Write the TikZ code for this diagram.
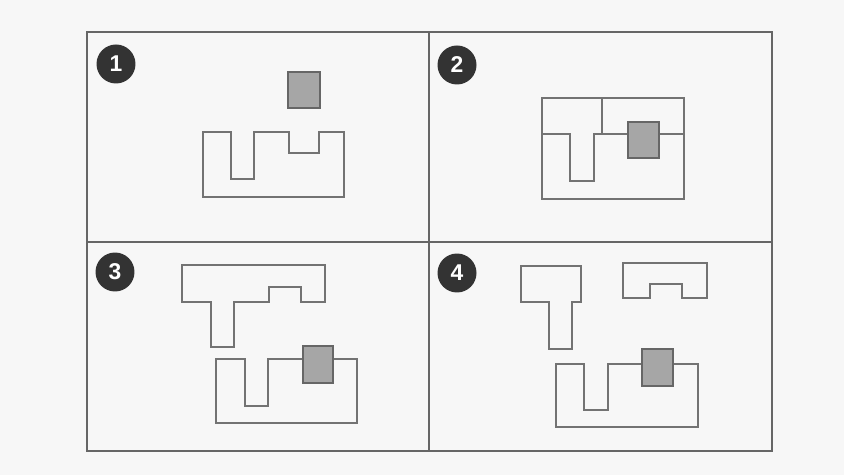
\documentclass[tikz,border=0pt]{standalone}
\usepackage{fontspec}
\setsansfont{Liberation Sans}
\usepackage{tikz}
\usetikzlibrary{positioning}

\begin{document}
\begin{tikzpicture}[
    x=0.02cm, y=-0.02cm,
    frame/.style={draw=black!60, line width=0.7pt},
    piece/.style={draw=black!55, line width=0.8pt, line join=miter},
    plug/.style={draw=black!60, fill=black!35, line width=0.8pt},
    badge/.style={circle, fill=black!80, text=white, minimum size=0.78cm, inner sep=0pt,
                  font=\sffamily\bfseries\fontsize{13}{13}\selectfont},
]
    \fill[black!3] (0,0) rectangle (844,475);
    \useasboundingbox (0,0) rectangle (844,475);
    % frame and dividers
    \draw[frame] (87,32) rectangle (772,451);
    \draw[frame] (429,32) -- (429,451);
    \draw[frame] (87,242) -- (772,242);
    % step numbers
    \node[badge] (n1) at (116,64) {1};
    \node[badge] (n2) at (457,65) {2};
    \node[badge] (n3) at (115,272) {3};
    \node[badge] (n4) at (457,273) {4};
    % 1: part and insert apart
    \draw[piece] (203,132) -- (231,132) -- (231,179) -- (254,179) -- (254,132) -- (289,132)
        -- (289,153) -- (319,153) -- (319,132) -- (344,132) -- (344,197) -- (203,197) -- cycle;
    \draw[plug] (288,72) rectangle (320,108);
    % 2: mould closed
    \draw[piece] (542,98) rectangle (684,199);
    \draw[piece] (602,98) -- (602,134);
    \draw[piece] (542,134) -- (570,134) -- (570,181) -- (594,181) -- (594,134) -- (684,134);
    \draw[plug] (628,122) rectangle (659,158);
    % 3: upper half lifted
    \draw[piece] (182,265) -- (325,265) -- (325,302) -- (301,302) -- (301,287) -- (269,287)
        -- (269,302) -- (234,302) -- (234,347) -- (211,347) -- (211,302) -- (182,302) -- cycle;
    \draw[piece] (216,359) -- (245,359) -- (245,406) -- (268,406) -- (268,359) -- (357,359)
        -- (357,423) -- (216,423) -- cycle;
    \draw[plug] (303,346) rectangle (333,383);
    % 4: upper half split
    \draw[piece] (521,266) -- (581,266) -- (581,302) -- (572,302) -- (572,349) -- (549,349)
        -- (549,302) -- (521,302) -- cycle;
    \draw[piece] (623,263) -- (707,263) -- (707,298) -- (682,298) -- (682,284) -- (650,284)
        -- (650,298) -- (623,298) -- cycle;
    \draw[piece] (556,364) -- (584,364) -- (584,410) -- (608,410) -- (608,364) -- (698,364)
        -- (698,427) -- (556,427) -- cycle;
    \draw[plug] (642,349) rectangle (673,386);
\end{tikzpicture}
\end{document}
